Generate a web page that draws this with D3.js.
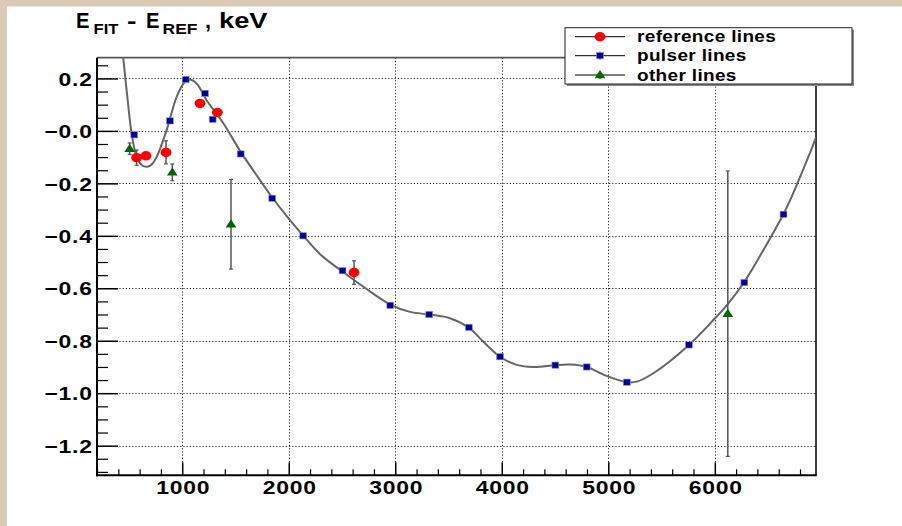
<!DOCTYPE html>
<html><head><meta charset="utf-8">
<script src="https://cdn.jsdelivr.net/npm/d3@7"></script>
<style>
html,body{margin:0;padding:0;background:#fff;}
svg{display:block;font-family:"Liberation Sans",Arial,sans-serif;font-weight:bold;}
</style></head>
<body>
<svg id="c" width="902" height="526"></svg>
<script>
// ---- data ----
const xMajorTicks = [1000, 2000, 3000, 4000, 5000, 6000];
const xTickLabels = ["1000", "2000", "3000", "4000", "5000", "6000"];
const yMajorTicks = [0.2, 0, -0.2, -0.4, -0.6, -0.8, -1.0, -1.2];
const yTickLabels = ["0.2", "\u22120.0", "\u22120.2", "\u22120.4", "\u22120.6", "\u22120.8", "\u22121.0", "\u22121.2"];

// pulser lines: energy (keV), residual (keV)
const pulserX = [550, 885, 1033, 1214, 1286, 1549, 1845, 2136, 2505, 2953, 3319, 3691, 3984, 4503, 4797, 5174, 5757, 6277, 6645];
const pulserY = [-0.015, 0.038, 0.196, 0.143, 0.044, -0.088, -0.257, -0.400, -0.533, -0.665, -0.700, -0.749, -0.861, -0.893, -0.900, -0.958, -0.816, -0.578, -0.318];

// reference lines
const refX = [572, 660, 848, 1167, 1330, 2613];
const refY = [-0.102, -0.095, -0.082, 0.105, 0.070, -0.540];
const refErr = [0.029, 0, 0.044, 0, 0, 0.045];

// other lines
const otherX = [507, 907, 1458, 6122];
const otherY = [-0.068, -0.158, -0.356, -0.697];
const otherErr = [0.022, 0.032, 0.171, 0.544];

// fit curve
const fitX = [430, 447, 488, 525, 572, 620, 672, 720, 760, 854, 948, 1026, 1067, 1135, 1229, 1386, 1549, 1700, 1840, 1981, 2137, 2294, 2507, 2701, 2954, 3139, 3320, 3514, 3689, 3810, 3984, 4141, 4297, 4503, 4643, 4797, 4985, 5174, 5267, 5423, 5755, 5987, 6122, 6275, 6457, 6645, 6707, 6904, 6950];
const fitY = [0.345, 0.276, 0.117, -0.010, -0.099, -0.130, -0.137, -0.125, -0.099, 0.003, 0.130, 0.187, 0.196, 0.181, 0.117, 0.029, -0.080, -0.170, -0.251, -0.325, -0.400, -0.470, -0.537, -0.594, -0.662, -0.690, -0.700, -0.714, -0.749, -0.797, -0.861, -0.892, -0.900, -0.893, -0.891, -0.900, -0.934, -0.958, -0.956, -0.924, -0.817, -0.721, -0.660, -0.577, -0.454, -0.317, -0.264, -0.073, -0.025];

const legendLabels = ["reference lines", "pulser lines", "other lines"];

// ---- drawing ----
const svg = d3.select("#c");
const L = 97, R = 816, T = 57.7, B = 475.3;
const x = d3.scaleLinear().domain([200, 6950]).range([L, R]);
const y = d3.scaleLinear().domain([-1.313, 0.279]).range([B, T]);

// canvas border (tan)
svg.append("rect").attr("x",0).attr("y",0).attr("width",902).attr("height",526).attr("fill","#ffffff");
svg.append("rect").attr("x",0).attr("y",0).attr("width",902).attr("height",6.5).attr("fill","#dccab6");
svg.append("rect").attr("x",0).attr("y",0).attr("width",7).attr("height",526).attr("fill","#dccab6");

// grid
const grid = svg.append("g").attr("stroke","#222").attr("stroke-width",1).attr("stroke-dasharray","1.2,2");
grid.selectAll(".gx").data(xMajorTicks).join("line")
  .attr("x1",d=>Math.round(x(d))+0.5).attr("x2",d=>Math.round(x(d))+0.5).attr("y1",T).attr("y2",B);
grid.selectAll(".gy").data(yMajorTicks).join("line")
  .attr("y1",d=>Math.round(y(d))+0.5).attr("y2",d=>Math.round(y(d))+0.5).attr("x1",L).attr("x2",R);

// minor ticks
const xMinor = d3.range(200, 6950, 200).filter(v => v % 1000 !== 0);
const yMinor = d3.range(-1.30, 0.27, 0.05).map(v=>+v.toFixed(2)).filter(v => Math.abs(Math.round(v*5) - v*5) > 1e-6);

const xMinAx = d3.axisBottom(x).tickValues(xMinor).tickSize(-6).tickFormat("");
svg.append("g").attr("transform",`translate(0,${B})`).call(xMinAx)
  .call(g=>g.select(".domain").remove()).selectAll("line").attr("stroke","#000").attr("stroke-width",1.2);
const yMinAx = d3.axisLeft(y).tickValues(yMinor).tickSize(-11).tickFormat("");
svg.append("g").attr("transform",`translate(${L},0)`).call(yMinAx)
  .call(g=>g.select(".domain").remove()).selectAll("line").attr("stroke","#000").attr("stroke-width",1.2);

// major axes
const xAx = d3.axisBottom(x).tickValues(xMajorTicks).tickSize(-13).tickPadding(6)
  .tickFormat((d,i)=>xTickLabels[i]);
const gx = svg.append("g").attr("transform",`translate(0,${B})`).call(xAx);
gx.select(".domain").remove();
gx.selectAll("line").attr("stroke","#000").attr("stroke-width",1.5);
gx.selectAll("text").attr("font-size",18.5).attr("font-weight","bold").attr("fill","#000")
  .attr("letter-spacing",0.6).attr("y",null).attr("dy",null).attr("transform","translate(0.5,19) scale(1.24,1)");

const yAx = d3.axisLeft(y).tickValues(yMajorTicks).tickSize(-21).tickPadding(4)
  .tickFormat((d,i)=>yTickLabels[i]);
const gy = svg.append("g").attr("transform",`translate(${L},0)`).call(yAx);
gy.select(".domain").remove();
gy.selectAll("line").attr("stroke","#000").attr("stroke-width",1.5);
gy.selectAll("text").attr("font-size",18.5).attr("font-weight","bold").attr("fill","#000")
  .attr("letter-spacing",0.6).attr("dy","0.36em").attr("x",-3.5).attr("transform","scale(1.24,1)");

// frame
svg.append("line").attr("x1",L).attr("x2",R).attr("y1",T).attr("y2",T).attr("stroke","#555").attr("stroke-width",1.8);
svg.append("line").attr("x1",R).attr("x2",R).attr("y1",T).attr("y2",B).attr("stroke","#000").attr("stroke-width",1.5);
svg.append("line").attr("x1",L).attr("x2",L).attr("y1",T).attr("y2",B+1).attr("stroke","#000").attr("stroke-width",2);
svg.append("line").attr("x1",L-1).attr("x2",R+0.75).attr("y1",B).attr("y2",B).attr("stroke","#000").attr("stroke-width",2);

// clip
svg.append("clipPath").attr("id","fr").append("rect").attr("x",L).attr("y",T).attr("width",R-L).attr("height",B-T);

// fit curve
const fitData = fitX.map((v,i)=>[v, fitY[i]]);
svg.append("path").attr("clip-path","url(#fr)")
  .attr("d", d3.line().x(d=>x(d[0])).y(d=>y(d[1])).curve(d3.curveCatmullRom.alpha(0.5))(fitData))
  .attr("fill","none").attr("stroke","#666").attr("stroke-width",2);

// error bars
function errBars(xs, ys, es){
  const g = svg.append("g").attr("stroke","#555").attr("stroke-width",1.5);
  xs.forEach((v,i)=>{
    if(!es[i]) return;
    const cx = x(v), y1 = y(ys[i]+es[i]), y2 = y(ys[i]-es[i]);
    g.append("line").attr("x1",cx).attr("x2",cx).attr("y1",y1).attr("y2",y2);
    g.append("line").attr("x1",cx-2).attr("x2",cx+2).attr("y1",y1).attr("y2",y1).attr("stroke-width",1.2);
    g.append("line").attr("x1",cx-2).attr("x2",cx+2).attr("y1",y2).attr("y2",y2).attr("stroke-width",1.2);
  });
}
errBars(refX, refY, refErr);
errBars(otherX, otherY, otherErr);

const tri = d3.symbol().type(d3.symbolTriangle).size(38);
function drawSquare(g, cx, cy){
  g.append("rect").attr("x",cx-3.4).attr("y",cy-3.1).attr("width",6.8).attr("height",6.2)
   .attr("fill","#000099").attr("stroke","#8a8ad0").attr("stroke-width",0.6);
}
function drawCircle(g, cx, cy){
  g.append("ellipse").attr("cx",cx).attr("cy",cy).attr("rx",5.4).attr("ry",4.7).attr("fill","#ff0000");
}
function drawTri(g, cx, cy){
  g.append("path").attr("d",tri()).attr("transform",`translate(${cx},${cy+0.5}) scale(1.15,1)`).attr("fill","#006600");
}
const mk = svg.append("g");
pulserX.forEach((v,i)=>drawSquare(mk, x(v), y(pulserY[i])));
refX.forEach((v,i)=>drawCircle(mk, x(v), y(refY[i])));
otherX.forEach((v,i)=>drawTri(mk, x(v), y(otherY[i])));

// title
const t = svg.append("text").attr("y",27.5).attr("font-size",21.5).attr("fill","#000");
t.append("tspan").attr("x",76).attr("textLength",13.5).attr("lengthAdjust","spacingAndGlyphs").text("E");
t.append("tspan").attr("x",93.5).attr("dy",6).attr("font-size",15.5).attr("textLength",25).attr("lengthAdjust","spacingAndGlyphs").text("FIT");
t.append("tspan").attr("x",127).attr("dy",-6).attr("textLength",9.5).attr("lengthAdjust","spacingAndGlyphs").text("-");
t.append("tspan").attr("x",146).attr("textLength",13.5).attr("lengthAdjust","spacingAndGlyphs").text("E");
t.append("tspan").attr("x",162.5).attr("dy",6).attr("font-size",15.5).attr("textLength",35).attr("lengthAdjust","spacingAndGlyphs").text("REF");
t.append("tspan").attr("x",205).attr("dy",-6).text(",");
t.append("tspan").attr("x",219).attr("textLength",48.5).attr("lengthAdjust","spacingAndGlyphs").text("keV");

// legend
const lx = 565, ly = 27.7, lw = 287, lh = 56.3;
svg.append("rect").attr("x",lx+2).attr("y",ly+2).attr("width",lw).attr("height",lh).attr("fill","#888");
svg.append("rect").attr("x",lx).attr("y",ly).attr("width",lw).attr("height",lh).attr("fill","#fff").attr("stroke","#222").attr("stroke-width",1);
const rowsY = [36.7, 55.7, 75];
const lg = svg.append("g");
rowsY.forEach((ry,i)=>{
  lg.append("line").attr("x1",575).attr("x2",625).attr("y1",ry).attr("y2",ry).attr("stroke","#000").attr("stroke-width",1);
  lg.append("line").attr("x1",600).attr("x2",600).attr("y1",ry-4).attr("y2",ry+4).attr("stroke","#000").attr("stroke-width",1);
  if(i===0) drawCircle(lg,600,ry);
  if(i===1) drawSquare(lg,600,ry);
  if(i===2) drawTri(lg,600,ry);
  lg.append("text").attr("transform",`translate(637,${ry+5.5}) scale(1.2,1)`).attr("font-size",15.8)
    .attr("letter-spacing",0.3).attr("fill","#000").text(legendLabels[i]);
});
</script>
</body></html>
